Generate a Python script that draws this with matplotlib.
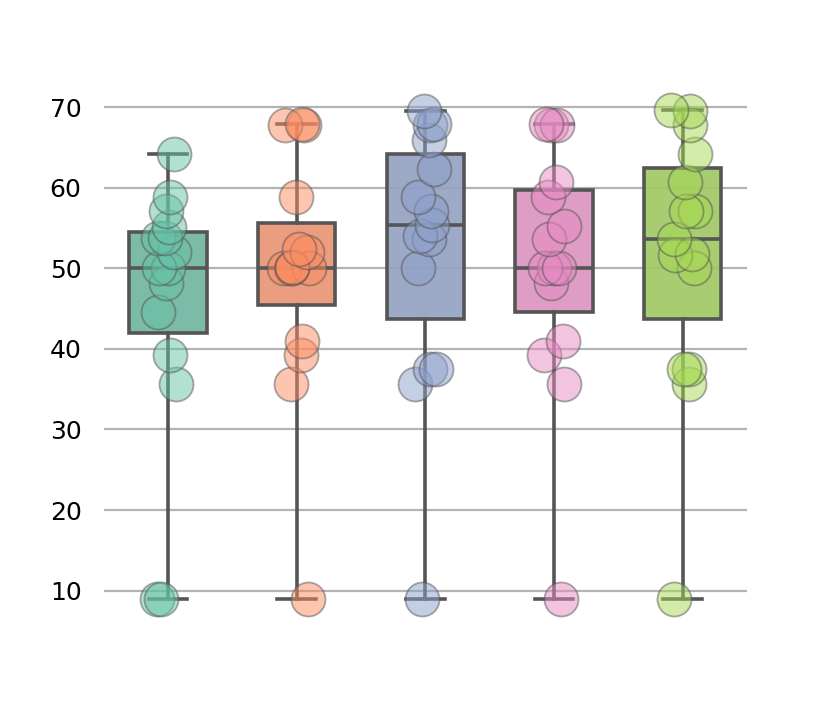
import numpy as np
import seaborn as sns
from matplotlib import pyplot as plt

# values, 15 per group
group_a = [9, 9, 35.6, 39.3, 44.6, 48.2, 50, 50, 52, 53.8, 53.8, 55.2, 57.1, 58.9, 64.2]
group_b = [9, 35.6, 39.3, 41.0, 50, 50, 50, 50, 50.2, 52.1, 52.4, 58.9, 67.8, 67.8, 67.9]
group_c = [9, 35.6, 37.5, 37.5, 50, 53.6, 54.0, 55.4, 57.1, 58.9, 62.4, 66.0, 67.8, 67.9, 69.6]
group_d = [9, 35.6, 39.3, 41.0, 48.2, 50, 50, 50, 53.6, 55.3, 58.9, 60.7, 67.8, 67.8, 67.9]
group_e = [9, 35.6, 37.5, 37.5, 50, 51.7, 51.8, 53.6, 57.1, 57.2, 60.7, 64.2, 67.8, 69.6, 69.7]
groups = [group_a, group_b, group_c, group_d, group_e]

yticks = [10, 20, 30, 40, 50, 60, 70]

pal = sns.color_palette("Set2", 5)
box_pal = sns.color_palette("Set2", 5, desat=0.75)
edge = "#555555"

fig = plt.figure(figsize=(8.3, 7.12), dpi=100)
ax = fig.add_subplot(111)
plt.subplots_adjust(left=0.125, right=0.9, top=0.88, bottom=0.125)

pos = np.arange(len(groups))
bp = ax.boxplot(groups, positions=pos, widths=0.6, whis=(0, 100),
                patch_artist=True, showfliers=False, capwidths=0.3,
                boxprops=dict(edgecolor=edge, linewidth=2.6),
                whiskerprops=dict(color=edge, linewidth=2.6),
                capprops=dict(color=edge, linewidth=2.6),
                medianprops=dict(color=edge, linewidth=2.6),
                zorder=2)
for patch, c in zip(bp["boxes"], box_pal):
    patch.set_facecolor((*c, 0.93))

# jittered points like a stripplot
rng = np.random.default_rng(3)
for i, vals in enumerate(groups):
    x = i + rng.uniform(-0.1, 0.1, len(vals))
    ax.scatter(x, vals, s=600, color=pal[i], alpha=0.5,
               edgecolor="#555555", linewidth=1.3, zorder=3)

ax.set_xlim(-0.5, 4.5)
ax.set_yticks(yticks)
ax.set_xticks([])
ax.tick_params(axis="y", length=0, pad=16, labelsize=18)
ax.yaxis.grid(True, color="#b3b3b3", linewidth=1.6)
ax.set_axisbelow(True)
for s in ax.spines.values():
    s.set_visible(False)

plt.savefig("out.png")
